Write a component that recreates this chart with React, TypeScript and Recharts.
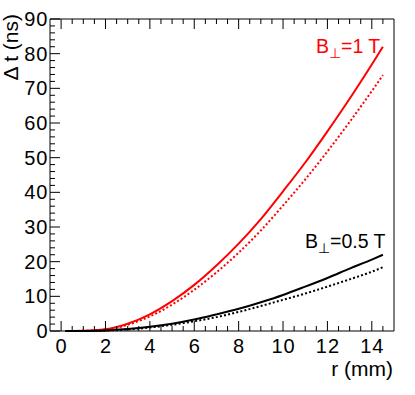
import React from 'react';
import { LineChart, Line, XAxis, YAxis } from 'recharts';

const rValues = [0.2, 1, 2, 3, 4, 5, 6, 7, 8, 9, 10, 11, 12, 13, 14, 14.5];
const dt1T = [0, 0.05, 0.5, 2.1, 4.8, 8.6, 13.3, 18.9, 25.2, 32.3, 40.3, 48.6, 57.6, 67.0, 76.9, 82.0];
const dt1TDotted = [0, 0.05, 0.4, 1.8, 4.2, 7.6, 11.9, 16.9, 22.6, 29.0, 36.2, 43.7, 51.8, 60.3, 69.2, 73.8];
const dt05T = [0, 0.02, 0.15, 0.55, 1.2, 2.1, 3.3, 4.8, 6.4, 8.3, 10.4, 12.8, 15.3, 18.0, 20.6, 22.0];
const dt05TDotted = [0, 0.02, 0.12, 0.45, 1.0, 1.8, 2.8, 4.0, 5.5, 7.2, 9.0, 10.8, 12.8, 14.9, 17.1, 18.4];

const xTicks = [0, 0.5, 1, 1.5, 2, 2.5, 3, 3.5, 4, 4.5, 5, 5.5, 6, 6.5, 7, 7.5, 8, 8.5, 9, 9.5, 10, 10.5, 11, 11.5, 12, 12.5, 13, 13.5, 14, 14.5];
const xLabels = [0, 2, 4, 6, 8, 10, 12, 14];
const yTicks = [0, 2, 4, 6, 8, 10, 12, 14, 16, 18, 20, 22, 24, 26, 28, 30, 32, 34, 36, 38, 40, 42, 44, 46, 48, 50, 52, 54, 56, 58, 60, 62, 64, 66, 68, 70, 72, 74, 76, 78, 80, 82, 84, 86, 88, 90];
const yLabels = [0, 10, 20, 30, 40, 50, 60, 70, 80, 90];

const data = rValues.map((r, i) => ({
  r,
  a: dt1T[i],
  b: dt1TDotted[i],
  c: dt05T[i],
  d: dt05TDotted[i],
}));

const FONT = '"Liberation Sans", Arial, Helvetica, sans-serif';
const FS = 20;
const TFS = 21;

const XTickBottom = (props: any) => {
  const { x, y, payload } = props;
  const v = payload.value;
  const major = xLabels.includes(v);
  const len = major ? 10 : 5;
  return (
    <g>
      <line x1={x} x2={x} y1={y} y2={y - len} stroke="#000" strokeWidth={1} />
      {major && (
        <text x={x + 0.5} y={y + 22} textAnchor="middle" fontFamily={FONT} fontSize={FS} letterSpacing={1} fill="#000">
          {v}
        </text>
      )}
    </g>
  );
};

const XTickTop = (props: any) => {
  const { x, y, payload } = props;
  const major = xLabels.includes(payload.value);
  const len = major ? 10 : 5;
  return <line x1={x} x2={x} y1={y} y2={y + len} stroke="#000" strokeWidth={1} />;
};

const YTickLeft = (props: any) => {
  const { x, y, payload } = props;
  const v = payload.value;
  const major = yLabels.includes(v);
  const len = major ? 10 : 5;
  return (
    <g>
      <line x1={x} x2={x + len} y1={y} y2={y} stroke="#000" strokeWidth={1} />
      {major && (
        <text x={x - 1.5} y={y + 7} textAnchor="end" fontFamily={FONT} fontSize={FS} letterSpacing={1} fill="#000">
          {v}
        </text>
      )}
    </g>
  );
};

const YTickRight = (props: any) => {
  const { x, y, payload } = props;
  const major = yLabels.includes(payload.value);
  const len = major ? 10 : 5;
  return <line x1={x} x2={x - len} y1={y} y2={y} stroke="#000" strokeWidth={1} />;
};

export default function App() {
  return (
    <div style={{ position: 'absolute', left: 0, top: 0, width: 415, height: 395, background: '#fff' }}>
      <LineChart
        width={415}
        height={395}
        data={data}
        margin={{ top: 18, right: 20, left: 49, bottom: 63 }}
      >
        <XAxis
          dataKey="r"
          type="number"
          domain={[-0.5, 15]}
          ticks={xTicks}
          interval={0}
          height={1}
          tickSize={0}
          tickMargin={0}
          tickLine={false}
          axisLine={{ stroke: '#000', strokeWidth: 1 }}
          tick={<XTickBottom />}
        />
        <XAxis
          xAxisId="top"
          orientation="top"
          dataKey="r"
          type="number"
          domain={[-0.5, 15]}
          ticks={xTicks}
          interval={0}
          height={1}
          tickSize={0}
          tickMargin={0}
          tickLine={false}
          axisLine={{ stroke: '#000', strokeWidth: 1 }}
          tick={<XTickTop />}
        />
        <YAxis
          type="number"
          domain={[0, 90]}
          ticks={yTicks}
          interval={0}
          width={1}
          tickSize={0}
          tickMargin={0}
          tickLine={false}
          axisLine={{ stroke: '#000', strokeWidth: 1 }}
          tick={<YTickLeft />}
        />
        <YAxis
          yAxisId="right"
          orientation="right"
          type="number"
          domain={[0, 90]}
          ticks={yTicks}
          interval={0}
          width={1}
          tickSize={0}
          tickMargin={0}
          tickLine={false}
          axisLine={{ stroke: '#000', strokeWidth: 1 }}
          tick={<YTickRight />}
        />
        <Line type="monotone" dataKey="a" stroke="#ff0000" strokeWidth={2} dot={false} isAnimationActive={false} />
        <Line type="monotone" dataKey="b" stroke="#ff0000" strokeWidth={2} strokeDasharray="2 2.2" dot={false} isAnimationActive={false} />
        <Line type="monotone" dataKey="c" stroke="#000" strokeWidth={2} dot={false} isAnimationActive={false} />
        <Line type="monotone" dataKey="d" stroke="#000" strokeWidth={2} strokeDasharray="2 2.2" dot={false} isAnimationActive={false} />
      </LineChart>
      <svg
        width={415}
        height={395}
        style={{ position: 'absolute', left: 0, top: 0, pointerEvents: 'none' }}
      >
        <text x={393} y={376} textAnchor="end" fontFamily={FONT} fontSize={TFS} fill="#000">
          r (mm)
        </text>
        <text
          x={18}
          y={14}
          textAnchor="end"
          transform="rotate(-90 18 14)"
          fontFamily={FONT}
          fontSize={TFS}
          fill="#000"
        >
          Δ t (ns)
        </text>
        <text x={316} y={53} fontFamily={FONT} fontSize={19.5} fill="#ff0000">
          B<tspan fontSize={13.5} dy={5}>⊥</tspan><tspan dy={-5}>=1 T</tspan>
        </text>
        <text x={305} y={248} fontFamily={FONT} fontSize={19.5} fill="#000">
          B<tspan fontSize={13.5} dy={5}>⊥</tspan><tspan dy={-5}>=0.5 T</tspan>
        </text>
      </svg>
    </div>
  );
}
